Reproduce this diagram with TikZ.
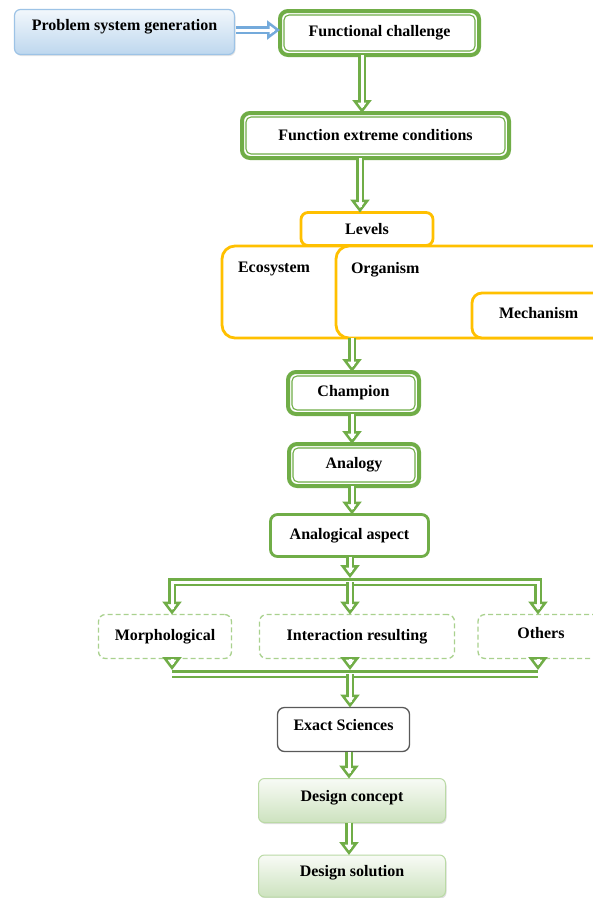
\documentclass[tikz,border=0pt]{standalone}
\usepackage{fontspec}
\setmainfont{Liberation Serif}
\usetikzlibrary{arrows.meta,shadows}
\definecolor{leaf}{HTML}{70AD47}
\definecolor{paleleaf}{HTML}{A9D18E}
\definecolor{gold}{HTML}{FFC000}
\definecolor{sky}{HTML}{5B9BD5}
\definecolor{paleblue}{HTML}{9DC3E6}
\tikzset{
  every node/.style={font=\bfseries\fontsize{16}{18}\selectfont, inner sep=0pt, outer sep=0pt},
  box/.style={draw=leaf, line width=2.8pt, rounded corners=7pt, fill=white},
  dblbox/.style={box, line width=4pt, rounded corners=8pt},
  inline/.style={draw=leaf, line width=1.1pt, rounded corners=5pt},
  lvlbox/.style={draw=gold, line width=2.8pt, rounded corners=13pt, fill=white},
  dashbox/.style={draw=paleleaf, line width=1.3pt, dash pattern=on 5pt off 3pt, rounded corners=7pt},
  greybox/.style={draw=black!65, line width=1.3pt, rounded corners=7pt, fill=white},
  shadebox/.style={draw=paleleaf!80, line width=1pt, rounded corners=6pt, top color=leaf!5, bottom color=leaf!35,
    drop shadow={opacity=.25, shadow xshift=1pt, shadow yshift=-1.5pt}},
  pipe/.style={draw=leaf, line width=8pt, postaction={draw=white, line width=3pt, -}},
  arr/.style={draw=leaf, line width=8pt, -{Triangle[open, length=13pt, width=19pt, line width=2.5pt]},
    postaction={draw=white, line width=3pt, -, shorten >=6pt}},
}
\begin{document}
\begin{tikzpicture}[x=1pt,y=-1pt]
\clip (0,0) rectangle (593,898);
\fill[white] (0,0) rectangle (593,898);

\node[draw=paleblue, line width=1.2pt, rounded corners=6pt, top color=sky!8, bottom color=sky!40,
  drop shadow={opacity=.2, shadow xshift=1pt, shadow yshift=-1.5pt},
  minimum width=220pt, minimum height=45pt, text depth=15pt] (prob) at (124.5,32) {Problem system generation};
\node[dblbox, minimum width=199pt, minimum height=44pt] (fc) at (379.5,33) {Functional challenge};
\node[dblbox, minimum width=267pt, minimum height=45pt] (fec) at (375.5,135.5) {Function extreme conditions};

\node[lvlbox, anchor=north west, minimum width=150pt, minimum height=92pt,
  label={[anchor=north west, xshift=16pt, yshift=-16pt]north west:Ecosystem}] (eco) at (222,246) {};
\node[lvlbox, anchor=north west, minimum width=290pt, minimum height=92pt,
  label={[anchor=north west, xshift=15pt, yshift=-16pt]north west:Organism}] (org) at (336,246) {};
\node[lvlbox, rounded corners=7pt, minimum width=132pt, minimum height=33pt] (levels) at (367,229) {Levels};
\node[lvlbox, rounded corners=10pt, anchor=north west, minimum width=160pt, minimum height=45pt,
  label={[anchor=west, xshift=27pt, yshift=2pt]west:Mechanism}] (mech) at (472,293) {};

\node[dblbox, minimum width=131pt, minimum height=42pt] (champ) at (353.5,393) {Champion};
\node[dblbox, minimum width=130pt, minimum height=42pt] (anal) at (354,465) {Analogy};
\node[box, minimum width=158pt, minimum height=42pt] (aspect) at (349.5,535.5) {Analogical aspect};

\node[dashbox, minimum width=133pt, minimum height=44pt] (morph) at (165,636.5) {Morphological};
\node[dashbox, minimum width=195pt, minimum height=44pt] (inter) at (357,636.5) {Interaction resulting};
\node[dashbox, minimum width=126pt, minimum height=44pt, text depth=7pt] (others) at (541,636.5) {Others};

\node[greybox, minimum width=132pt, minimum height=44pt, text depth=9pt] (exact) at (343.5,729.5) {Exact Sciences};
\node[shadebox, minimum width=187pt, minimum height=44pt, text depth=10pt] (concept) at (352,800.5) {Design concept};
\node[shadebox, minimum width=187pt, minimum height=42pt, text depth=10pt] (solution) at (352,876) {Design solution};

\foreach \n in {fc,fec,champ,anal}
  \draw[inline] ([shift={(4pt,4pt)}]\n.south west) rectangle ([shift={(-4pt,-4pt)}]\n.north east);

\coordinate (c1) at (362,0);
\coordinate (c2) at (360,0);
\coordinate (c3) at (352,0);
\coordinate (c4) at (349,0);
\coordinate (split) at (350,582);
\coordinate (jl) at (172,582);
\coordinate (jr) at (538,582);
\coordinate (merge) at (350,674);
\coordinate (ml) at (172,674);
\coordinate (mr) at (538,674);
\coordinate (ps) at (236,30);

\draw[arr, draw=sky!85] (ps) -- (fc.west |- ps);
\draw[arr] (fc.south -| c1) -- (fec.north -| c1);
\draw[arr] (fec.south -| c2) -- (levels.north -| c2);
\draw[arr] (org.south -| c3) -- (champ.north -| c3);
\draw[arr] (champ.south -| c3) -- (anal.north -| c3);
\draw[arr] (anal.south -| c3) -- (aspect.north -| c3);
\draw[arr] (aspect.south -| split) -- ([yshift=4pt]split);
\draw[arr] (split) -| (jl |- morph.north);
\draw[arr] (split) -| (jr |- others.north);
\draw[arr] (split) -- (split |- inter.north);
\draw[pipe] (ml) -- (mr);
\draw[arr] (ml |- morph.south) -- ([yshift=4pt]ml);
\draw[arr] (merge |- inter.south) -- ([yshift=4pt]merge);
\draw[arr] (mr |- others.south) -- ([yshift=4pt]mr);
\draw[arr] (merge) -- (exact.north -| merge);
\draw[arr] (exact.south -| c4) -- (concept.north -| c4);
\draw[arr] (concept.south -| c4) -- (solution.north -| c4);
\end{tikzpicture}
\end{document}
